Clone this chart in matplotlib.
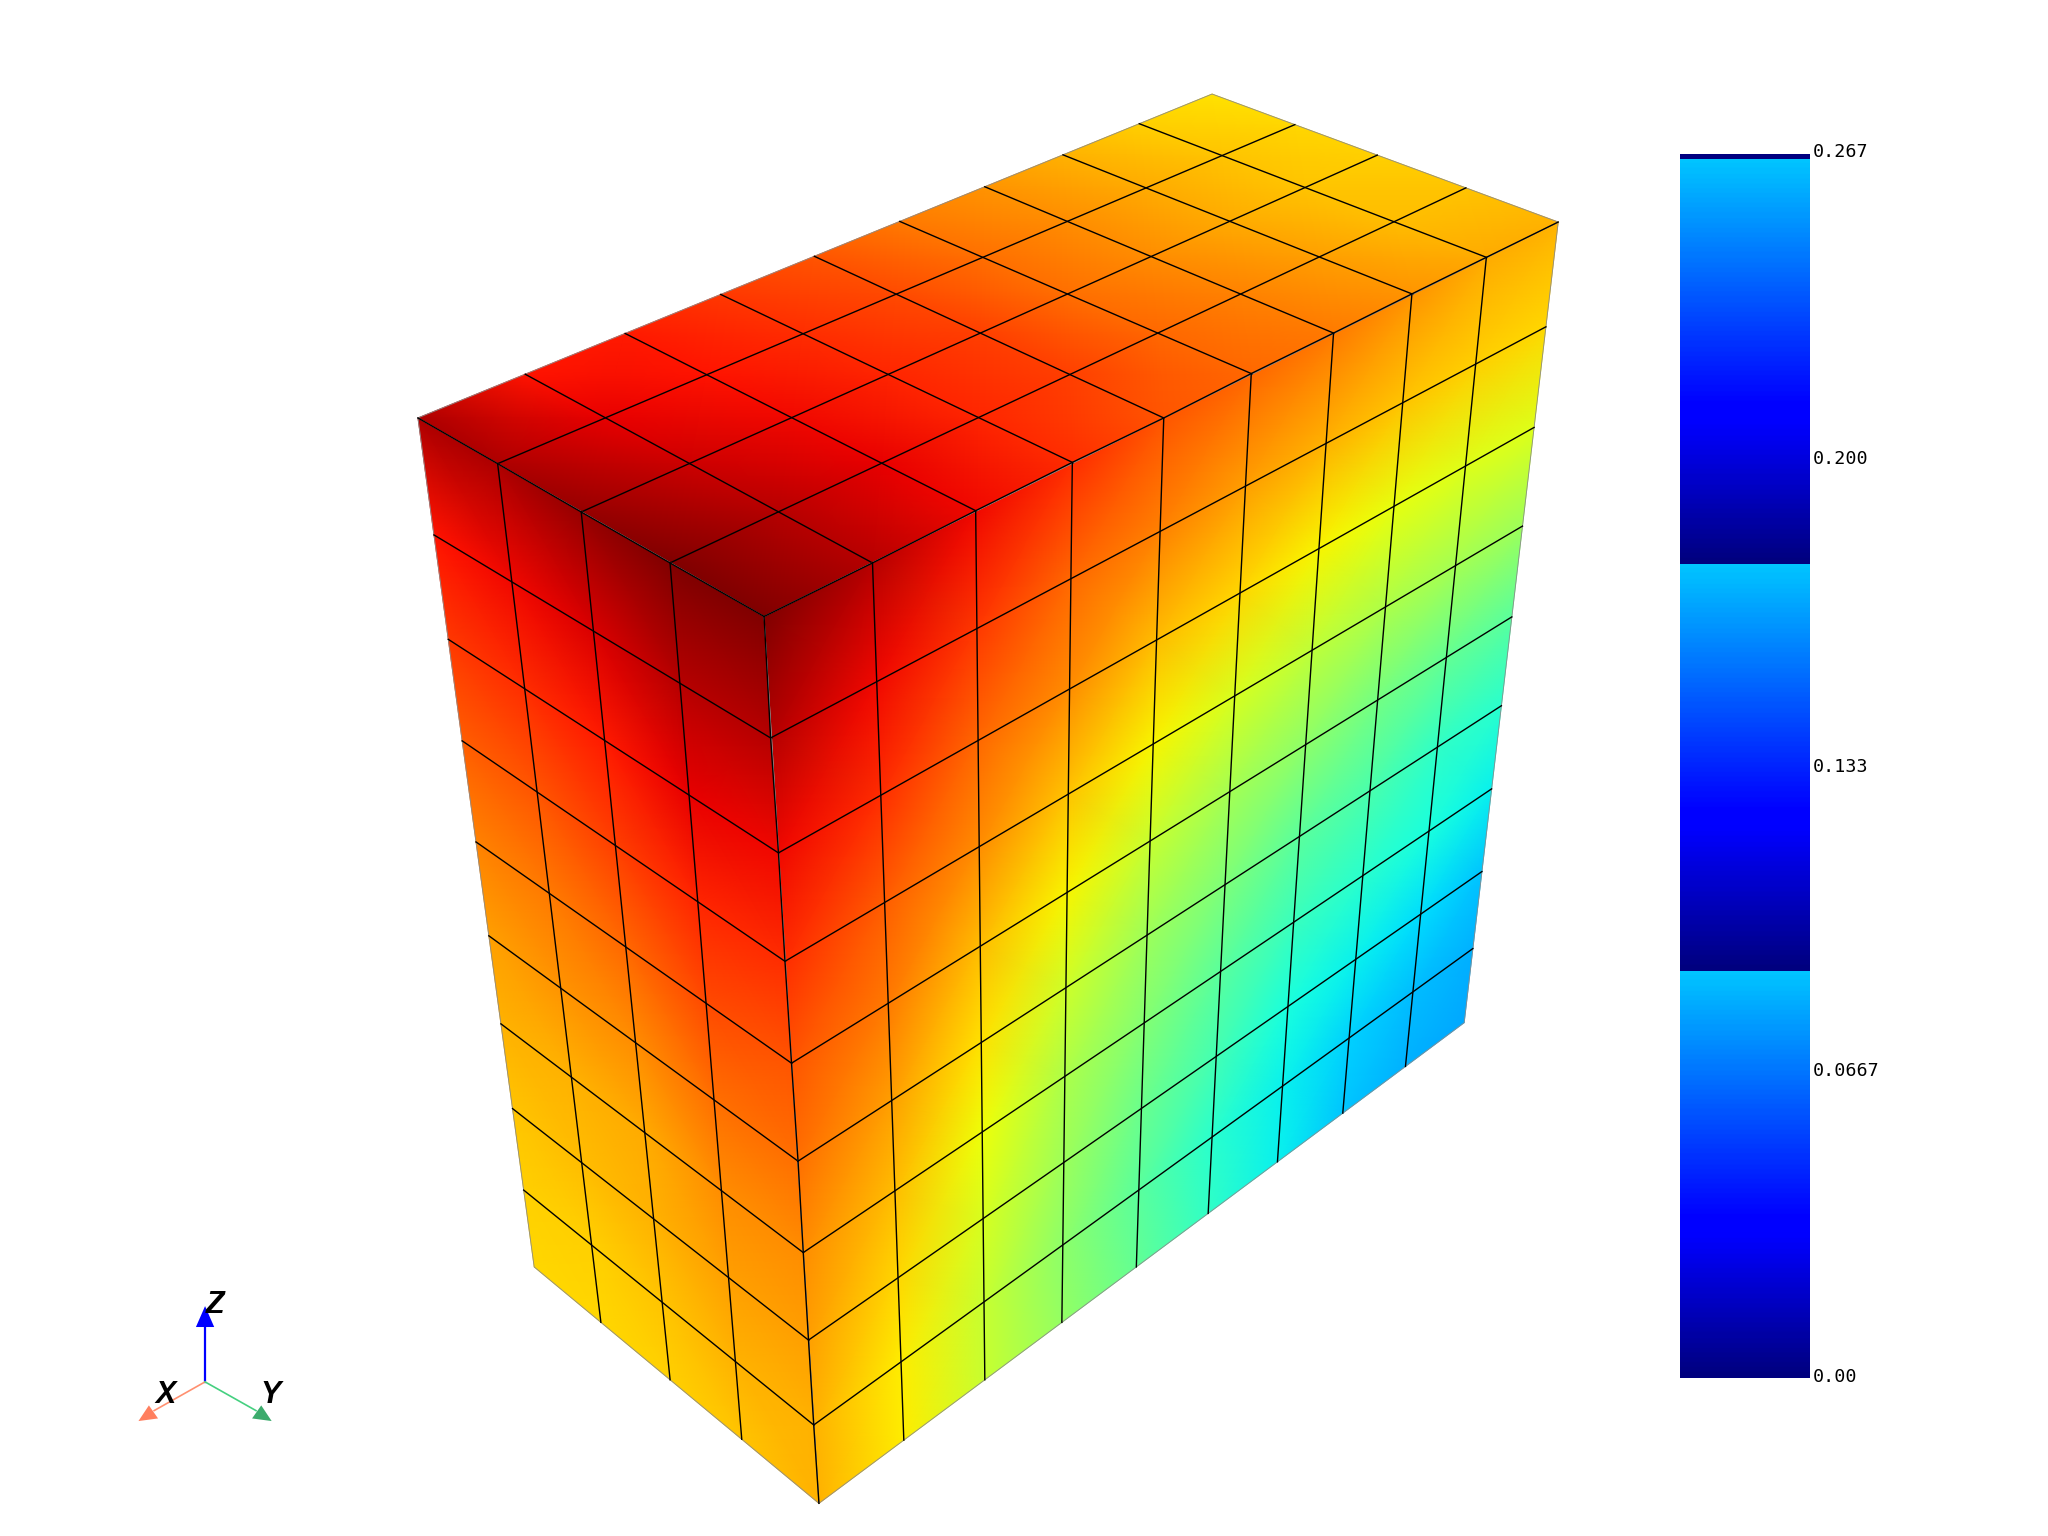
import numpy as np
import matplotlib.pyplot as plt
from matplotlib.transforms import ScaledTranslation

# node positions, in 1568x1176 units
back_edge = [(320,320),(403,287),(478,255),(553,226),(623,196),(690,170),(754,143),(815,119),(873,95),(928,72)]
front_edge = [(585,472),(668,431),(747,391),(821,354),(891,320),(958,286),(1021,255),(1081,225),(1138,197),(1193,170)]
left_top = [(320,320),(381,355),(445,392),(513,431),(585,472)]
right_top = [(928,72),(990,96),(1054,119),(1122,144),(1193,170)]
left_col = [(320,320),(333,410),(344,490),(355,568),(365,645),(375,717),(385,785),(394,850),(402,912),(409,970)]
front_col = [(585,472),(590,565),(596,653),(601,736),(606,814),(611,889),(615,959),(619,1026),(623,1091),(627,1151)]
right_col = [(1193,170),(1184,250),(1175,327),(1167,402),(1158,472),(1150,540),(1142,604),(1135,667),(1128,726),(1121,783)]
left_bottom = [(409,970),(460,1012),(513,1056),(568,1103),(627,1151)]
right_bottom = [(627,1151),(692,1103),(754,1056),(813,1012),(870,970),(925,929),(978,890),(1028,853),(1076,817),(1121,783)]

# field values on the nodes, on the 0-1 colour scale
top_vals = [[.96,.89,.88,.85,.82,.78,.75,.72,.69,.67],
            [.96,.91,.89,.86,.83,.79,.76,.73,.70,.68],
            [.98,.93,.90,.87,.84,.79,.76,.73,.70,.69],
            [1.0,.95,.91,.87,.84,.80,.77,.74,.71,.70],
            [1.0,.95,.90,.86,.82,.80,.78,.75,.73,.72]]
left_vals = [[.96,.96,.98,1.0,1.0],
             [.89,.90,.92,.95,.95],
             [.85,.86,.88,.91,.90],
             [.81,.82,.84,.87,.86],
             [.77,.78,.80,.83,.82],
             [.74,.75,.76,.79,.79],
             [.72,.72,.73,.76,.76],
             [.70,.71,.72,.74,.74],
             [.69,.69,.70,.72,.72],
             [.68,.68,.69,.70,.72]]
right_vals = [[1.0,.95,.90,.86,.82,.80,.78,.75,.73,.72],
              [.95,.90,.85,.80,.77,.74,.72,.70,.69,.68],
              [.90,.86,.80,.76,.71,.68,.65,.63,.62,.62],
              [.86,.81,.76,.70,.65,.61,.58,.56,.55,.54],
              [.82,.78,.71,.65,.59,.55,.52,.49,.47,.46],
              [.79,.74,.67,.60,.54,.50,.46,.44,.41,.40],
              [.76,.71,.64,.56,.51,.46,.42,.40,.38,.36],
              [.74,.68,.61,.54,.48,.43,.38,.36,.34,.32],
              [.72,.66,.59,.52,.46,.40,.36,.33,.31,.30],
              [.72,.66,.59,.53,.47,.41,.36,.32,.30,.29]]

# colour bar
bar_edges = [-0.0004, 0.0883, 0.177, 0.2653, 0.2663]
bar_ticks = [0, 0.0667, 0.133, 0.200, 0.267]
bar_labels = ['0.00', '0.0667', '0.133', '0.200', '0.267']
bar_top_colour = 0.32


def grid_nodes(top, bottom, left, right):
    # mesh lines are straight in the perspective view, so nodes are line crossings
    top, bottom, left, right = [np.array(e, float) for e in (top, bottom, left, right)]
    nodes = np.zeros((len(left), len(top), 2))
    for i in range(len(left)):
        for j in range(len(top)):
            p, r = top[j], bottom[j] - top[j]
            q, s = left[i], right[i] - left[i]
            t = ((q[0]-p[0])*s[1] - (q[1]-p[1])*s[0]) / (r[0]*s[1] - r[1]*s[0])
            nodes[i, j] = p + t*r
    return nodes[..., 0], nodes[..., 1]


fig = plt.figure(figsize=(20.48, 15.36), dpi=100)
ax = fig.add_axes([0, 0, 1, 1])
ax.set_xlim(0, 1568)
ax.set_ylim(1176, 0)
ax.axis('off')

faces = [(grid_nodes(back_edge, front_edge, left_top, right_top), top_vals),
         (grid_nodes(left_top, left_bottom, left_col, front_col), left_vals),
         (grid_nodes(front_edge, right_bottom, front_col, right_col), right_vals)]

for (X, Y), vals in faces:
    ax.pcolormesh(X, Y, np.array(vals), cmap='jet', vmin=0, vmax=1, shading='gouraud')
    # thin grey outline, black inner lines
    ax.plot(np.r_[X[0], X[1:, -1], X[-1, -2::-1], X[-2::-1, 0]],
            np.r_[Y[0], Y[1:, -1], Y[-1, -2::-1], Y[-2::-1, 0]], color='0.55', lw=0.6)
    for i in range(1, X.shape[0]-1):
        ax.plot(X[i], Y[i], color='black', lw=1.0)
    for j in range(1, X.shape[1]-1):
        ax.plot(X[:, j], Y[:, j], color='black', lw=1.0)

# edges shared by two faces are black too
for edge in (left_top, front_edge, front_col):
    e = np.array(edge)
    ax.plot(e[:, 0], e[:, 1], color='black', lw=1.0)

# axis triad
ax.plot([157, 157], [1058, 1012], color='#0000ff', lw=1.6)
ax.fill([157, 150, 164], [1000, 1016, 1016], color='#0000ff', lw=0)
ax.plot([157, 118], [1058, 1080], color='#ff9070', lw=1.2)
ax.fill([106, 114, 121], [1088, 1076, 1086], color='#ff7f5f', lw=0)
ax.plot([157, 196], [1058, 1080], color='#45d080', lw=1.2)
ax.fill([208, 200, 193], [1088, 1076, 1086], color='#3cab6c', lw=0)
for label, x, y in [('X', 127, 1068), ('Y', 207, 1068), ('Z', 165, 999)]:
    ax.text(x, y, label, family='Liberation Sans', weight='bold', style='italic',
            fontsize=22, ha='center', va='center', color='black')

# colour bar in its own axes, in data units
cax = fig.add_axes([1680/2048, 1-1378/1536, 130/2048, (1378-150)/1536])
ramp = np.linspace(0, bar_top_colour, 256).reshape(-1, 1)
for lo, hi in zip(bar_edges[:3], bar_edges[1:4]):
    cax.imshow(ramp, cmap='jet', vmin=0, vmax=1, origin='lower', aspect='auto',
               extent=(0, 1, lo, hi), interpolation='bilinear')
cax.imshow([[0]], cmap='jet', vmin=0, vmax=1, aspect='auto',
           extent=(0, 1, bar_edges[3], bar_edges[4]))
cax.set_xlim(0, 1)
cax.set_ylim(-0.0004, 0.2672)
cax.set_xticks([])
cax.yaxis.tick_right()
cax.set_yticks(bar_ticks)
cax.set_yticklabels(bar_labels, family='DejaVu Sans Mono', fontsize=13.2)
cax.tick_params(axis='y', length=0, pad=2)
up = ScaledTranslation(0, 0.8/72, fig.dpi_scale_trans)
for t in cax.get_yticklabels():
    t.set_transform(t.get_transform() + up)
for s in cax.spines.values():
    s.set_visible(False)

fig.savefig('out.png', dpi=100)
